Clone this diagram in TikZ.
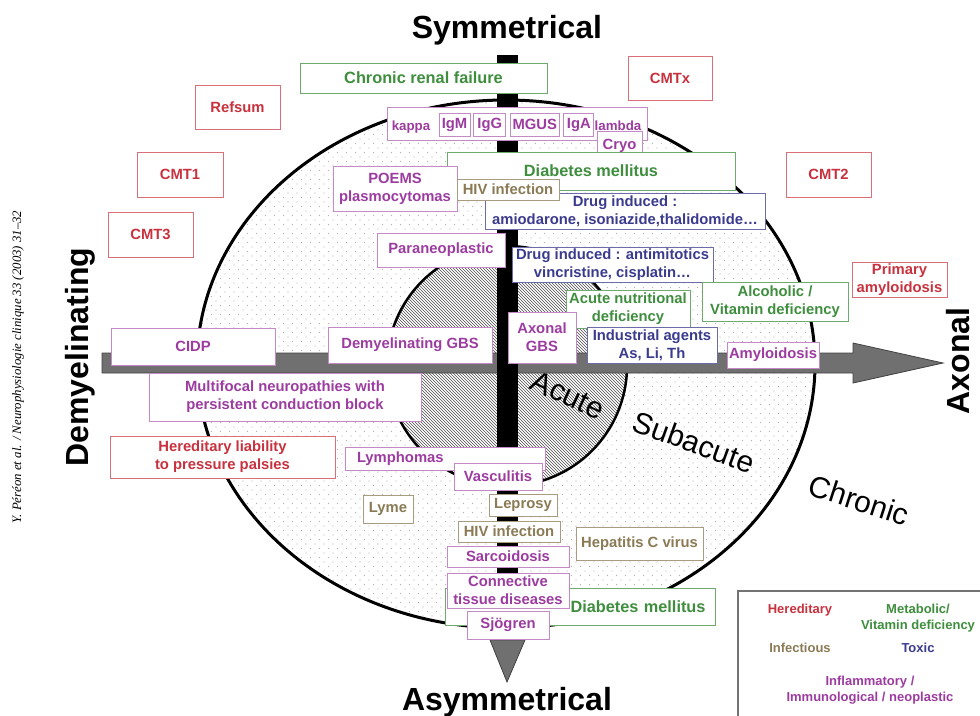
\documentclass[tikz,border=0pt]{standalone}
\usepackage{fontspec}
\setmainfont{Liberation Sans}
\newfontfamily\citefont{Liberation Serif}
\usetikzlibrary{positioning,patterns,patterns.meta}
\definecolor{hered}{HTML}{C8323F}
\definecolor{metab}{HTML}{3E8E3E}
\definecolor{infect}{HTML}{8A7B55}
\definecolor{toxic}{HTML}{3B3B8E}
\definecolor{inflam}{HTML}{9C3CA0}
\definecolor{axisgray}{HTML}{707070}
\newcommand\boxfont{\fontsize{14.8}{18}\selectfont\bfseries}
\newcommand\bigboxfont{\fontsize{16.3}{19}\selectfont\bfseries}
\newcommand\smallboxfont{\fontsize{13.3}{16}\selectfont\bfseries}
\newcommand\axisfont{\fontsize{32}{36}\selectfont\bfseries}
\newcommand\phasefont{\fontsize{30}{34}\selectfont}
\newcommand\legfont{\fontsize{13}{16}\selectfont\bfseries}
\tikzdeclarepattern{
name=sparsedots,
type=uncolored,
bottom left={(-1pt,-1pt)},
top right={(9pt,9pt)},
tile size={(9pt,9pt)},
code={\fill (0pt,0pt) circle (0.7pt); \fill (4.5pt,4.5pt) circle (0.7pt);}
}
\tikzset{
box/.style={rectangle,fill=white,line width=0.8pt,
inner xsep=2pt,inner ysep=0pt,align=center,font=\boxfont},
sz/.style 2 args={minimum width=#1pt,minimum height=#2pt},
hered/.style={box,draw=hered!70,text=hered},
metab/.style={box,draw=metab!75,text=metab},
infect/.style={box,draw=infect!75,text=infect},
toxic/.style={box,draw=toxic!75,text=toxic},
inflam/.style={box,draw=inflam!60,text=inflam},
inflamtxt/.style={font=\smallboxfont,text=inflam,inner sep=0pt,anchor=base},
axislabel/.style={font=\axisfont},
phase/.style={font=\phasefont,inner sep=0pt},
legtext/.style={font=\legfont,align=center}
}
\begin{document}
\begin{tikzpicture}[x=1pt,y=-1pt]
\useasboundingbox (0,0) rectangle (980,715);

\fill[white] (506,364) ellipse [x radius=309pt,y radius=264pt];
\fill[pattern=sparsedots,pattern color=black!30] (506,364) ellipse [x radius=309pt,y radius=264pt];
\draw[line width=3pt] (506,364) ellipse [x radius=309pt,y radius=264pt];

\fill[white] (507,366) circle (120pt);
\fill[pattern=north west lines,pattern color=black!70] (507,366) circle (120pt);
\draw[line width=2.5pt] (507,366) circle (120pt);

\node[phase,rotate=-25] (acute) at (568,395) {Acute};
\node[phase,rotate=-20] (subacute) at (694,442) {Subacute};
\node[phase,rotate=-18] (chronic) at (859,500) {Chronic};

\draw[fill=axisgray,draw=black!75,line width=0.8pt] (102,353) -- (853,353) -- (853,343) -- (943,363)
  -- (853,383) -- (853,373) -- (102,373) -- cycle;
\fill[black] (497,55) rectangle (518,640);
\draw[fill=axisgray,draw=black!75,line width=0.8pt] (490,640) -- (525,640) -- (507,682) -- cycle;

\node[axislabel,anchor=base] (sym) at (507,38) {Symmetrical};
\node[axislabel,anchor=base] (asym) at (507,710) {Asymmetrical};
\node[axislabel,rotate=90] (demyel) at (80,357) {Demyelinating};
\node[axislabel,rotate=90] (axonal) at (958,361) {Axonal};
\node[font={\citefont\itshape\fontsize{12.8}{15}\selectfont},rotate=90] (cite) at (18,367)
  {Y. Péréon et al. / Neurophysiologie clinique 33 (2003) 31–32};

\node[metab,font=\bigboxfont,sz={247}{30}] (renal) at (423.5,78) {Chronic renal failure};
\node[hered,sz={85}{44}] (refsum) at (237.5,107) {Refsum};
\node[hered,sz={86}{45}] (cmtone) at (180,174.5) {CMT1};
\node[hered,sz={85}{45}] (cmtthree) at (150.5,234.5) {CMT3};
\node[hered,sz={84}{44}] (cmtx) at (670,78) {CMTx};
\node[hered,sz={85}{45}] (cmttwo) at (828.5,174.5) {CMT2};

\node[inflam,sz={260}{33}] (paraprot) at (517,123.5) {};
\node[inflamtxt] (kappa) at (411,130) {kappa};
\node[inflamtxt] (lambda) at (618,130) {lambda};
\node[inflam,sz={31}{23}] (igm) at (454.5,124.5) {IgM};
\node[inflam,sz={32}{23},right=3pt of igm] (igg) {IgG};
\node[inflam,sz={47}{23},right=4pt of igg] (mgus) {MGUS};
\node[inflam,sz={30}{23},right=4pt of mgus] (iga) {IgA};
\node[inflam,sz={45}{29}] (cryo) at (619.5,145.5) {Cryo};

\node[metab,font=\bigboxfont,sz={288}{38}] (diabtop) at (591,171) {Diabetes mellitus};
\node[inflam,sz={124}{45}] (poems) at (395,188.5) {POEMS\\plasmocytomas};
\node[toxic,sz={280}{36}] (drugamio) at (625,211) {Drug induced :\\amiodarone, isoniazide,thalidomide…};
\node[infect,sz={102}{21}] (hivtop) at (508,189.5) {HIV infection};
\node[inflam,sz={128}{34}] (paraneo) at (441,250) {Paraneoplastic};
\node[toxic,sz={201}{35}] (drugmito) at (612.5,264.5) {Drug induced : antimitotics\\vincristine, cisplatin…};
\node[metab,sz={124}{38}] (acutenut) at (628,309) {Acute nutritional\\deficiency};
\node[metab,sz={146}{39}] (alcohol) at (775,301.5) {Alcoholic /\\Vitamin deficiency};
\node[hered,sz={95}{35}] (primamyl) at (899.5,279.5) {Primary\\amyloidosis};

\node[inflam,sz={164}{37}] (cidp) at (193,346.5) {CIDP};
\node[inflam,sz={164}{36}] (demgbs) at (410,345) {Demyelinating GBS};
\node[inflam,sz={68}{51}] (axgbs) at (542,337.5) {Axonal\\GBS};
\node[toxic,sz={130}{36}] (industrial) at (652,345) {Industrial agents\\As, Li, Th};
\node[inflam,sz={90}{26}] (amyl) at (773,355) {Amyloidosis};
\node[inflam,sz={272}{48}] (multifocal) at (285,397) {Multifocal neuropathies with\\persistent conduction block};
\node[hered,sz={225}{42}] (hlpp) at (222.5,457) {Hereditary liability\\to pressure palsies};

\node[inflam,text width=176pt,align=left,inner xsep=12pt,minimum height=23pt] (lymph) at (445,458.5) {Lymphomas};
\node[inflam,sz={88}{27}] (vascul) at (498,476.5) {Vasculitis};
\node[infect,sz={50}{28}] (lyme) at (388,509) {Lyme};
\node[infect,sz={68}{22}] (leprosy) at (523,505) {Leprosy};
\node[infect,sz={102}{21}] (hivbot) at (509,531.5) {HIV infection};
\node[inflam,sz={122}{21}] (sarcoid) at (508,556.5) {Sarcoidosis};
\node[infect,sz={127}{33}] (hepc) at (639.5,543.5) {Hepatitis C virus};
\node[metab,font=\bigboxfont,text width=250pt,align=right,inner xsep=10pt,minimum height=37pt] (diabbot)
  at (580.5,606.5) {Diabetes mellitus};
\node[inflam,sz={122}{35}] (connective) at (508,590.5) {Connective\\tissue diseases};
\node[inflam,sz={82}{28}] (sjogren) at (508,625) {Sjögren};

\node[draw=black!55,line width=1.8pt,fill=white,anchor=north west,
  minimum width=260pt,minimum height=140pt] (legend) at (737,590) {};
\node[legtext,text=hered] (leghered) at (800,610) {Hereditary};
\node[legtext,text=metab] (legmetab) at (918,618) {Metabolic/\\Vitamin deficiency};
\node[legtext,text=infect] (leginfect) at (800,648) {Infectious};
\node[legtext,text=toxic] (legtoxic) at (918,648) {Toxic};
\node[legtext,text=inflam] (leginflam) at (870,690) {Inflammatory /\\Immunological / neoplastic};
\end{tikzpicture}
\end{document}
